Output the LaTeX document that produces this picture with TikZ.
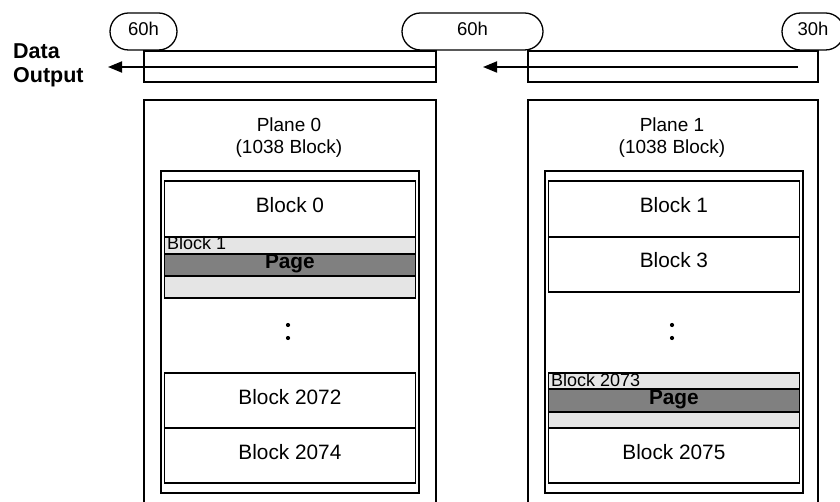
\documentclass[tikz,border=0pt]{standalone}
\usepackage{fontspec}
\setmainfont{Liberation Sans}
\usetikzlibrary{arrows.meta,shapes.misc}
\newcommand\fblk{\fontsize{20.8}{24}\selectfont}
\newcommand\fsml{\fontsize{18}{21}\selectfont}
\newcommand\fpln{\fontsize{19}{22}\selectfont}
\newcommand\fpil{\fontsize{18.5}{22}\selectfont}
\newcommand\fbig{\fontsize{21.5}{24}\selectfont\bfseries}
\definecolor{lightrow}{gray}{0.9}
\definecolor{pagerow}{gray}{0.5}
\begin{document}
\begin{tikzpicture}[x=1pt,y=-1pt,
  box/.style={draw, line width=1.8pt, inner sep=0pt, anchor=north west, fill=white,
              font=\fblk, text height=0.72em, text depth=0pt},
  frame/.style={draw, line width=1.8pt, inner sep=0pt, anchor=north west},
  light/.style={box, fill=lightrow},
  pagebox/.style={box, fill=pagerow, font=\fblk\bfseries},
  pill/.style={draw, line width=1.3pt, rounded rectangle, fill=white, inner sep=0pt,
               minimum height=37pt, font=\fpil, text height=0.72em, text depth=0pt},
  arr/.style={line width=1.8pt, -{Triangle[length=14pt,width=11pt]}},
  lbl/.style={inner sep=0pt, anchor=base west},
  ttl/.style={inner sep=0pt, anchor=base, font=\fpln}]
\useasboundingbox (0,0) rectangle (840,502);
\clip (0,0) rectangle (840,502);

% Data output label
\node[lbl, font=\fbig] (data) at (13,59) {Data};
\node[lbl, font=\fbig] (output) at (13,83) {Output};

% registers
\node[frame, minimum width=292pt, minimum height=31pt] (regL) at (143,50) {};
\node[frame, minimum width=290pt, minimum height=31pt] (regR) at (527,50) {};

% pills
\node[pill, minimum width=67pt] (p1) at (143.5,31.5) {60h};
\node[pill, minimum width=141pt] (p2) at (472.5,31.5) {60h};
\node[pill, minimum width=62pt] (p3) at (813,31.5) {30h};

% arrows
\coordinate (tipL) at (108,67);
\coordinate (tipM) at (483,67);
\coordinate (srcR) at (798,67);
\draw[arr] (regL.east |- tipL) -- (tipL);
\draw[arr] (srcR) -- (tipM);

% planes
\node[frame, minimum width=292pt, minimum height=430pt] (plane0) at (143,99) {};
\node[frame, minimum width=290pt, minimum height=430pt] (plane1) at (527,99) {};
\node[ttl] (t0a) at (289,132) {Plane 0};
\node[ttl] (t0b) at (289,154) {(1038 Block)};
\node[ttl] (t1a) at (672,132) {Plane 1};
\node[ttl] (t1b) at (672,154) {(1038 Block)};

% inner frames
\node[frame, minimum width=258pt, minimum height=322pt] (fr0) at (160,170) {};
\node[frame, minimum width=258pt, minimum height=322pt] (fr1) at (544,170) {};

% plane 0 blocks
\node[box, minimum width=251pt, minimum height=56pt] (b0) at (163.5,180) {Block 0};
\node[light, minimum width=251pt, minimum height=61pt] (b1) at (163.5,236) {};
\node[pagebox, minimum width=251pt, minimum height=22pt] (pg0) at (163.5,253) {Page};
\node[lbl, font=\fsml] (b1l) at (167,250) {Block 1};
\fill (288,325) circle (2.1pt) (288,338) circle (2.1pt);
\node[box, minimum width=251pt, minimum height=55pt] (b2072) at (163.5,372) {Block 2072};
\node[box, minimum width=251pt, minimum height=55pt] (b2074) at (163.5,427) {Block 2074};

% plane 1 blocks
\node[box, minimum width=251pt, minimum height=56pt] (c1) at (547.5,180) {Block 1};
\node[box, minimum width=251pt, minimum height=55pt] (c3) at (547.5,236) {Block 3};
\fill (672,325) circle (2.1pt) (672,338) circle (2.1pt);
\node[light, minimum width=251pt, minimum height=55pt] (c2073) at (547.5,372) {};
\node[pagebox, minimum width=251pt, minimum height=23pt] (pg1) at (547.5,388) {Page};
\node[lbl, font=\fsml] (c2073l) at (551,386) {Block 2073};
\node[box, minimum width=251pt, minimum height=55pt] (c2075) at (547.5,427) {Block 2075};
\end{tikzpicture}
\end{document}
